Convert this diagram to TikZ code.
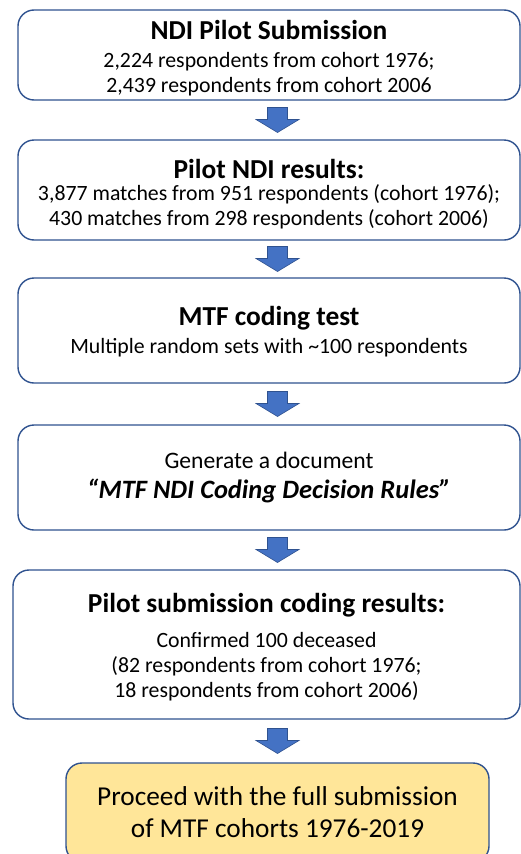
\documentclass[tikz,border=0pt]{standalone}
\usepackage{fontspec}
\setmainfont{Carlito}
\usetikzlibrary{calc}

\definecolor{boxline}{HTML}{2F528F}
\definecolor{arrowfill}{HTML}{4472C4}
\definecolor{finalfill}{HTML}{FFE699}

\newcommand{\boxhead}[1]{{\fontsize{27.4}{28}\selectfont\bfseries #1}}
\newcommand{\boxtopstrut}[1]{\rule{0pt}{#1}}
\newcommand{\boxbotstrut}{\rule[-6pt]{0pt}{6pt}}

\tikzset{blockarrow/.pic={
  \draw[draw=boxline,line width=0.6pt,fill=arrowfill]
    (-10,-12.5) -- (10,-12.5) -- (10,-0.5) -- (21.5,-0.5) -- (0,12.5)
    -- (-21.5,-0.5) -- (-10,-0.5) -- cycle;}}

\begin{document}
\begin{tikzpicture}[x=1pt,y=-1pt,
  stepbox/.style={draw=boxline,line width=1.4pt,rounded corners=16pt,fill=white,
    align=center,inner sep=0pt,font=\fontsize{21.8}{25}\selectfont}]

\useasboundingbox (0,0) rectangle (520,854);

\node[stepbox,minimum width=502pt,minimum height=90pt] (submit) at (269,55)
  {\boxtopstrut{27pt}\boxhead{NDI Pilot Submission}\\[3pt]
   2,224 respondents from cohort 1976;\\
   2,439 respondents from cohort 2006\boxbotstrut};

\node[stepbox,minimum width=502pt,minimum height=100pt] (results) at (269,190)
  {\boxtopstrut{30pt}\boxhead{Pilot NDI results:}\\[-3pt]
   3,877 matches from 951 respondents (cohort 1976);\\
   430 matches from 298 respondents (cohort 2006)\boxbotstrut};

\node[stepbox,minimum width=502pt,minimum height=105pt] (test) at (269,330.5)
  {\boxtopstrut{23pt}\boxhead{MTF coding test}\\[3pt]
   Multiple random sets with \textasciitilde100 respondents\boxbotstrut};

\node[stepbox,minimum width=502pt,minimum height=105pt,font=\fontsize{23.6}{25}\selectfont] (rules) at (269,477.5)
  {\boxtopstrut{18pt}Generate a document\\[5pt]
   {\fontsize{26.5}{28}\selectfont\bfseries\itshape “MTF NDI Coding Decision Rules”}\boxbotstrut};

\node[stepbox,minimum width=507pt,minimum height=149pt] (coding) at (266.5,644.5)
  {\boxtopstrut{26pt}\boxhead{Pilot submission coding results:}\\[10pt]
   Confirmed 100 deceased\\
   (82 respondents from cohort 1976;\\
   18 respondents from cohort 2006)\boxbotstrut};

\node[stepbox,fill=finalfill,minimum width=423pt,minimum height=99pt,font=\fontsize{27.3}{32}\selectfont] (final) at (277.5,812.5)
  {\boxtopstrut{23pt}Proceed with the full submission\\
   of MTF cohorts 1976-2019\boxbotstrut};

\foreach \a/\b in {submit/results,results/test,test/rules,rules/coding,coding/final}
  \pic (arr-\a) at ($(\a.south -| final.north)!.5!(\b.north -| final.north)$) {blockarrow};
\end{tikzpicture}
\end{document}
